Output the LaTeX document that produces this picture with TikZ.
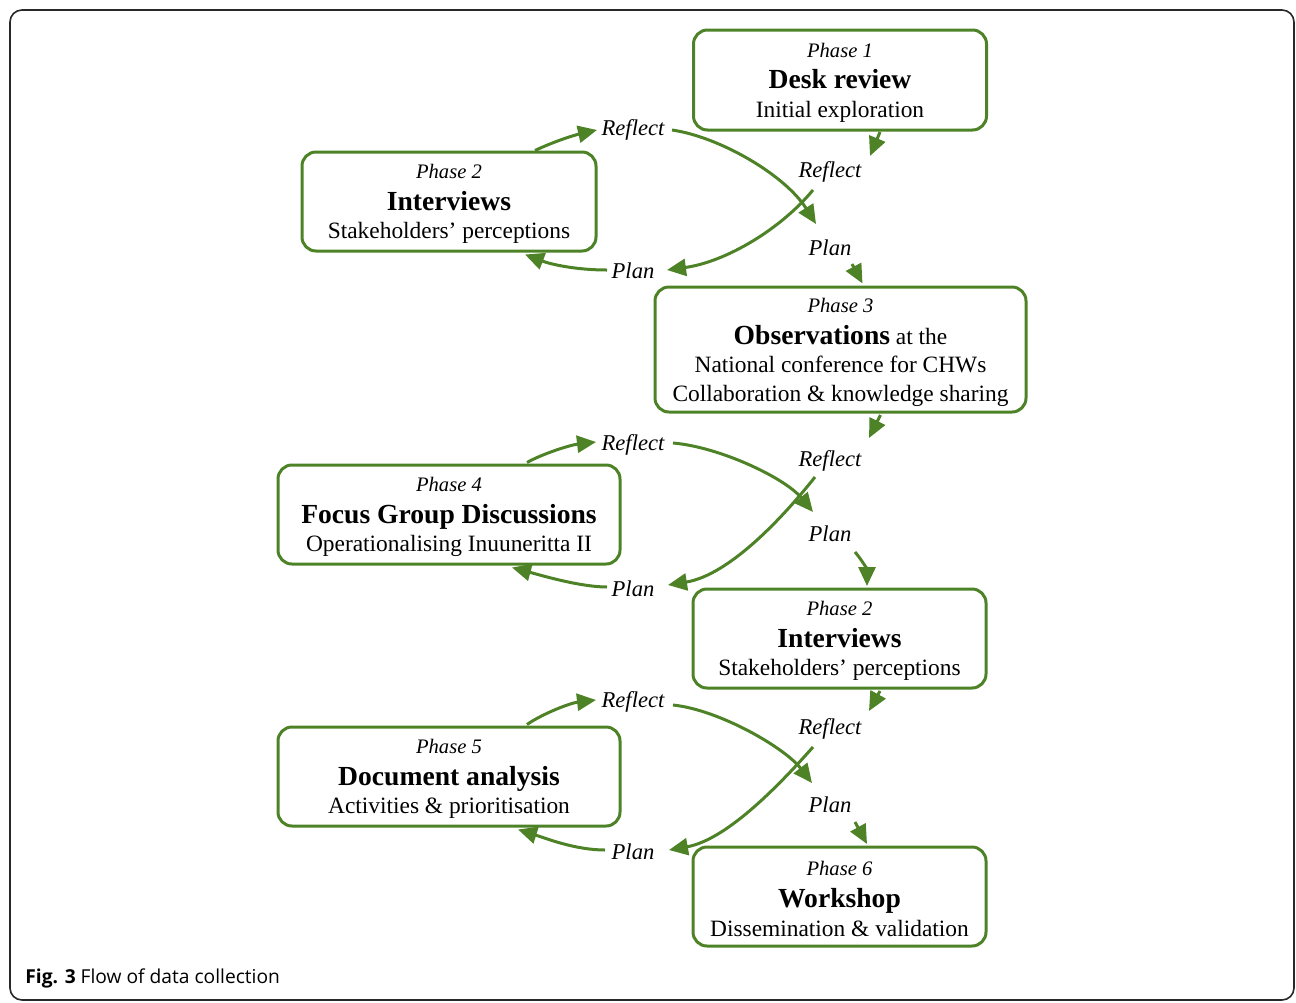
\documentclass[tikz,border=0pt]{standalone}
\usepackage{fontspec}
\setmainfont{Liberation Serif}
\newfontfamily\capfont{Open Sans}
\usetikzlibrary{arrows.meta,calc}
\definecolor{grn}{RGB}{77,130,38}
\definecolor{frm}{RGB}{40,40,40}
\newcommand\phasetxt[1]{{\fontsize{10.3}{14.3}\selectfont\itshape #1}}
\newcommand\headtxt[1]{{\fontsize{13.8}{14.3}\selectfont\bfseries #1}}
\begin{document}
\begin{tikzpicture}[x=0.5pt,y=-0.5pt,
  box/.style={draw=grn, line width=1.5pt, rounded corners=7pt, inner sep=0pt},
  txt/.style={align=center, inner sep=0pt, font=\fontsize{11.7}{14.3}\selectfont},
  lbl/.style={inner sep=0pt, font=\fontsize{11.3}{13}\selectfont\itshape},
  arr/.style={draw=grn, line width=1.5pt, -{Triangle[length=9.5pt,width=8.5pt]}}]
\useasboundingbox (0,0) rectangle (1296,1002);
\draw[frm, line width=0.8pt, rounded corners=6pt] (10,10) rectangle (1294,1000);

% boxes
\node[box, minimum width=146.5pt, minimum height=50pt] (ph1) at (840,80) {};
\node[txt] (t1) at ($(ph1)+(0,2.5)$)
  {\phasetxt{Phase 1}\\[1.5pt]\headtxt{Desk review}\\Initial exploration};
\node[box, minimum width=147pt, minimum height=49.5pt] (ph2a) at (449,201.5) {};
\node[txt] (t2a) at ($(ph2a)+(0,2.5)$)
  {\phasetxt{Phase 2}\\[1.5pt]\headtxt{Interviews}\\Stakeholders’ perceptions};
\node[box, minimum width=185.5pt, minimum height=62.5pt] (ph3) at (840.5,349.5) {};
\node[txt] (t3) at ($(ph3)+(0,3)$)
  {\phasetxt{Phase 3}\\[1.5pt]\headtxt{Observations} at the\\National conference for CHWs\\Collaboration \& knowledge sharing};
\node[box, minimum width=171pt, minimum height=49.5pt] (ph4) at (449,514.5) {};
\node[txt] (t4) at ($(ph4)+(0,2.5)$)
  {\phasetxt{Phase 4}\\[1.5pt]\headtxt{Focus Group Discussions}\\Operationalising Inuuneritta II};
\node[box, minimum width=146.5pt, minimum height=49.5pt] (ph2b) at (839.5,638.5) {};
\node[txt] (t2b) at ($(ph2b)+(0,2.5)$)
  {\phasetxt{Phase 2}\\[1.5pt]\headtxt{Interviews}\\Stakeholders’ perceptions};
\node[box, minimum width=171pt, minimum height=49.5pt] (ph5) at (449,776.5) {};
\node[txt] (t5) at ($(ph5)+(0,2.5)$)
  {\phasetxt{Phase 5}\\[1.5pt]\headtxt{Document analysis}\\Activities \& prioritisation};
\node[box, minimum width=146.5pt, minimum height=49.5pt] (ph6) at (839.5,896.5) {};
\node[txt] (t6) at ($(ph6)+(0,2.5)$)
  {\phasetxt{Phase 6}\\[1.5pt]\headtxt{Workshop}\\Dissemination \& validation};

% labels
\node[lbl] (r1a) at (633,130) {Reflect};
\node[lbl] (r1b) at (830,172) {Reflect};
\node[lbl] (p1b) at (830,248) {Plan};
\node[lbl] (p1a) at (633,271) {Plan};
\node[lbl] (r2a) at (633,445) {Reflect};
\node[lbl] (r2b) at (830,461) {Reflect};
\node[lbl] (p2b) at (830,534) {Plan};
\node[lbl] (p2a) at (633,589) {Plan};
\node[lbl] (r3a) at (633,702) {Reflect};
\node[lbl] (r3b) at (830,729) {Reflect};
\node[lbl] (p3b) at (830,805) {Plan};
\node[lbl] (p3a) at (633,852) {Plan};

% cycle 1
\draw[arr] ($(ph1)+(40,52)$) -- ($(r1b)+(40,-16)$);
\draw[arr] ($(r1b)+(-17,18)$) .. controls (780,230) and (725,262) .. ($(p1a)+(34,-1)$);
\draw[arr] ($(p1a)+(-26,-1)$) .. controls (575,270) and (550,264) .. ($(ph2a)+(76,53)$);
\draw[arr] ($(ph2a)+(86,-51)$) .. controls (555,141) and (575,135) .. ($(r1a)+(-36,0)$);
\draw[arr] ($(r1a)+(39,0)$) .. controls (720,137) and (785,175) .. ($(p1b)+(-14,-24)$);
\draw[arr] ($(p1b)+(22,16)$) -- ($(ph3)+(22,-66)$);

% cycle 2
\draw[arr] ($(ph3)+(40,65.5)$) -- ($(r2b)+(39,-23)$);
\draw[arr] ($(r2b)+(-15,16)$) .. controls (785,515) and (730,575) .. ($(p2a)+(35,-4)$);
\draw[arr] ($(p2a)+(-26,-2)$) .. controls (580,587) and (540,575) .. ($(ph4)+(63,53)$);
\draw[arr] ($(ph4)+(78,-52)$) .. controls (542,454) and (570,445) .. ($(r2a)+(-37,-3)$);
\draw[arr] ($(r2a)+(40,-2)$) .. controls (720,447) and (785,478) .. ($(p2b)+(-17,-22)$);
\draw[arr] ($(p2b)+(25,18)$) .. controls (862,560) and (867,570) .. ($(ph2b)+(27.5,-52.5)$);

% cycle 3
\draw[arr] ($(ph2b)+(40.5,52.5)$) -- ($(r3b)+(39,-18)$);
\draw[arr] ($(r3b)+(-17,18)$) .. controls (775,790) and (725,840) .. ($(p3a)+(36,-2)$);
\draw[arr] ($(p3a)+(-28,-2)$) .. controls (575,850) and (545,838) .. ($(ph5)+(69,53)$);
\draw[arr] ($(ph5)+(78,-52)$) .. controls (542,714) and (570,703) .. ($(r3a)+(-37,-2)$);
\draw[arr] ($(r3a)+(40,3)$) .. controls (720,710) and (785,748) .. ($(p3b)+(-18,-22)$);
\draw[arr] ($(p3b)+(25,17)$) -- ($(ph6)+(27.5,-52.5)$);

% caption
\node[anchor=west, inner sep=0pt, font=\capfont\fontsize{9.6}{12}\selectfont] (cap) at (25,978)
  {\textbf{Fig. 3} Flow of data collection};
\end{tikzpicture}
\end{document}
